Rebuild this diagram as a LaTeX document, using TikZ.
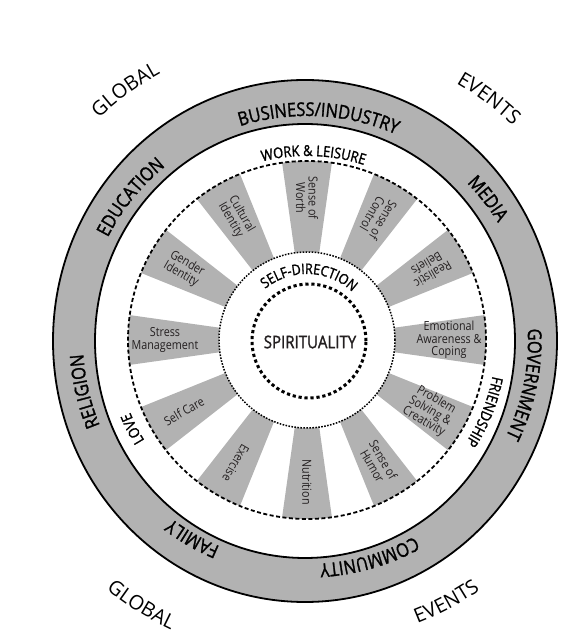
\documentclass[tikz,border=0pt]{standalone}
\usepackage{fontspec}
\setmainfont{Open Sans}
\newfontfamily\condfont[FakeStretch=0.86]{Open Sans}
\newfontfamily\heavycond[FakeStretch=0.86,FakeBold=1.4]{Open Sans}
\usetikzlibrary{calc,decorations.text}

\definecolor{ringgray}{RGB}{178,178,178}
\definecolor{ink}{RGB}{35,31,32}

\newcommand\ringfont{\heavycond\fontsize{19}{19}\selectfont}
\newcommand\bandfont{\heavycond\fontsize{15}{15}\selectfont}
\newcommand\outfont{\fontsize{20}{20}\selectfont}
\newcommand\selffont{\heavycond\fontsize{14.5}{14.5}\selectfont}
\newcommand\wedgefont{\condfont\fontsize{12.5}{12.5}\selectfont}

% text on a circle round (c): angle, radius, font, text
\newcommand\cwtext[4]{%
  \path[decorate,decoration={text along path,text align=center,text={|#3|#4}}]
    ($(c)+(#1+60:#2pt)$) arc[start angle=#1+60,end angle=#1-60,radius=#2pt];}
\newcommand\ccwtext[4]{%
  \path[decorate,decoration={text along path,text align=center,text={|#3|#4}}]
    ($(c)+(#1-60:#2pt)$) arc[start angle=#1-60,end angle=#1+60,radius=#2pt];}

\begin{document}
\begin{tikzpicture}[x=1pt,y=1pt,
    wedgelabel/.style={text=ink,font=\wedgefont,align=center,inner sep=0pt}]
    \useasboundingbox (0,0) rectangle (562,634);
    \coordinate (rc) at (305,293);
    \coordinate (c) at (307,294);

    % outer ring
    \fill[ringgray,even odd rule] (rc) ellipse[x radius=252pt,y radius=261pt]
        (rc) ellipse[x radius=210pt,y radius=217pt];
    \draw[line width=1.8pt] (rc) ellipse[x radius=252pt,y radius=261pt];
    \draw[line width=1.8pt] (rc) ellipse[x radius=210pt,y radius=217pt];

    % wedges
    \foreach \a in {90,60,...,-240}{
        \fill[ringgray] ($(c)+(\a+8:88pt)$) arc[start angle=\a+8,end angle=\a-8,radius=88pt]
            -- ($(c)+(\a-8:179pt)$) arc[start angle=\a-8,end angle=\a+8,radius=179pt] -- cycle;
    }
    \draw[line width=1.8pt,dash pattern=on 4pt off 2.5pt] (c) circle[radius=179pt];
    \draw[line width=1.5pt,dash pattern=on 1.6pt off 1.4pt] (c) circle[radius=88pt];
    \draw[line width=3pt,dash pattern=on 3.2pt off 2.8pt] ($(c)+(2,-1)$) circle[radius=57pt];

    \foreach \a/\r/\t [count=\i] in {90/-90/{Sense of\\Worth}, 60/-120/{Sense of\\Control},
        30/-150/{Realistic\\Beliefs}, 0/0/{Emotional\\Awareness \&\\Coping},
        -30/-30/{Problem\\Solving \&\\Creativity}, -60/-60/{Sense of\\Humor},
        -90/-90/Nutrition, -120/-120/Exercise, -150/30/Self Care,
        180/0/{Stress\\Management}, 150/-30/{Gender\\Identity}, 120/-60/{Cultural\\Identity}}{
        \node[wedgelabel,rotate=\r] (w\i) at ($(c)+(\a:142pt)$) {\t};
    }

    \node[text=ink,font=\heavycond\fontsize{17.5}{17.5}\selectfont] (spirit) at ($(c)+(3,-2)$) {SPIRITUALITY};
    \cwtext{88}{66}{\selffont}{SELF-DIRECTION}

    % inner band
    \cwtext{88}{184}{\bandfont}{WORK {\&} LEISURE}
    \cwtext{-22}{189}{\bandfont}{FRIENDSHIP}
    \cwtext{207}{191}{\bandfont}{LOVE}

    % ring
    \cwtext{87}{224}{\ringfont}{BUSINESS/INDUSTRY}
    \cwtext{38}{224}{\ringfont}{MEDIA}
    \cwtext{-11.5}{221}{\ringfont}{GOVERNMENT}
    \cwtext{-74}{224}{\ringfont}{COMMUNITY}
    \cwtext{-120}{224}{\ringfont}{FAMILY}
    \cwtext{193}{224}{\ringfont}{RELIGION}
    \cwtext{141}{224}{\ringfont}{EDUCATION}

    % outside
    \cwtext{126}{304}{\outfont}{GLOBAL}
    \cwtext{53}{297}{\outfont}{EVENTS}
    \ccwtext{-122}{320}{\outfont}{GLOBAL}
    \ccwtext{-62}{304}{\outfont}{EVENTS}
\end{tikzpicture}
\end{document}
